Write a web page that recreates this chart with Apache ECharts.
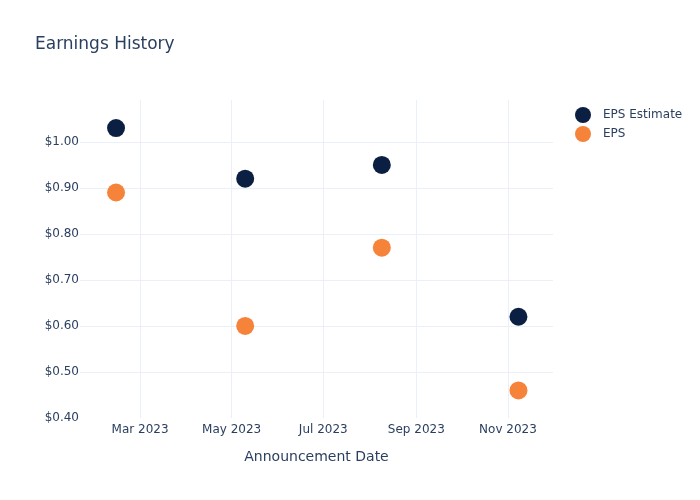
<!DOCTYPE html>
<html>
<head>
<meta charset="utf-8">
<script src="https://cdn.jsdelivr.net/npm/echarts@6/dist/echarts.min.js"></script>
<style>html,body{margin:0;padding:0;background:#fff}#c{width:700px;height:500px}</style>
</head>
<body>
<div id="c"></div>
<script>
const dates = ['2023-02-13', '2023-05-10', '2023-08-09', '2023-11-08'];
const epsEstimate = [1.03, 0.92, 0.95, 0.62];
const eps = [0.89, 0.60, 0.77, 0.46];
const xTickDates = ['2023-03-01', '2023-05-01', '2023-07-01', '2023-09-01', '2023-11-01'];
const xTickLabels = ['Mar 2023', 'May 2023', 'Jul 2023', 'Sep 2023', 'Nov 2023'];
const yTicks = [0.4, 0.5, 0.6, 0.7, 0.8, 0.9, 1.0];

const font = '"DejaVu Sans", sans-serif';
const textColor = '#2a3f5f';
const gridColor = '#ebf0f8';
const toTime = d => new Date(d + 'T00:00:00Z').getTime();
const xTickTimes = xTickDates.map(toTime);

const chart = echarts.init(document.getElementById('c'), null, {renderer: 'canvas'});
chart.setOption({
  animation: false,
  backgroundColor: '#fff',
  textStyle: {fontFamily: font},
  title: {
    text: 'Earnings History',
    left: 35, top: 36, padding: 0,
    textStyle: {fontFamily: font, fontSize: 17, fontWeight: 'normal', color: textColor}
  },
  legend: {
    orient: 'vertical',
    left: 575, top: 107, padding: 0,
    itemWidth: 16, itemHeight: 16, itemGap: 3,
    icon: 'circle',
    textStyle: {fontFamily: font, fontSize: 12, color: textColor, padding: [0, 0, 0, 7]},
    data: ['EPS Estimate', 'EPS']
  },
  grid: {left: 80, right: 147, top: 100, bottom: 82, containLabel: false},
  xAxis: {
    type: 'value',
    min: toTime('2023-01-20'),
    max: toTime('2023-12-01'),
    name: 'Announcement Date',
    nameLocation: 'middle',
    nameGap: 32,
    nameTextStyle: {fontFamily: font, fontSize: 14, color: textColor},
    axisLine: {show: false},
    axisTick: {show: false, customValues: xTickTimes},
    axisLabel: {
      customValues: xTickTimes,
      fontFamily: font, fontSize: 12, color: textColor, margin: 6,
      formatter: function (v) {
        const i = xTickTimes.indexOf(v);
        return i >= 0 ? xTickLabels[i] : '';
      }
    },
    splitLine: {show: false}
  },
  yAxis: {
    type: 'value',
    min: 0.4, max: 1.091,
    axisLine: {show: false},
    axisTick: {show: false, customValues: yTicks},
    axisLabel: {
      customValues: yTicks,
      fontFamily: font, fontSize: 12, color: textColor, margin: 1,
      formatter: v => '$' + v.toFixed(2)
    },
    splitLine: {show: false}
  },
  series: [
    {
      name: 'EPS Estimate',
      type: 'scatter',
      symbolSize: 18,
      itemStyle: {color: '#0b1f42', opacity: 1},
      data: dates.map((d, i) => [toTime(d), epsEstimate[i]]),
      z: 3,
      markLine: {
        silent: true, symbol: 'none', label: {show: false},
        lineStyle: {color: gridColor, type: 'solid', width: 1},
        data: xTickTimes.map(t => ({xAxis: t})).concat(yTicks.slice(1).map(v => ({yAxis: v}))),
        z: 1
      }
    },
    {
      name: 'EPS',
      type: 'scatter',
      symbolSize: 18,
      itemStyle: {color: '#f6833a', opacity: 1},
      data: dates.map((d, i) => [toTime(d), eps[i]]),
      z: 3
    }
  ]
});
</script>
</body>
</html>
